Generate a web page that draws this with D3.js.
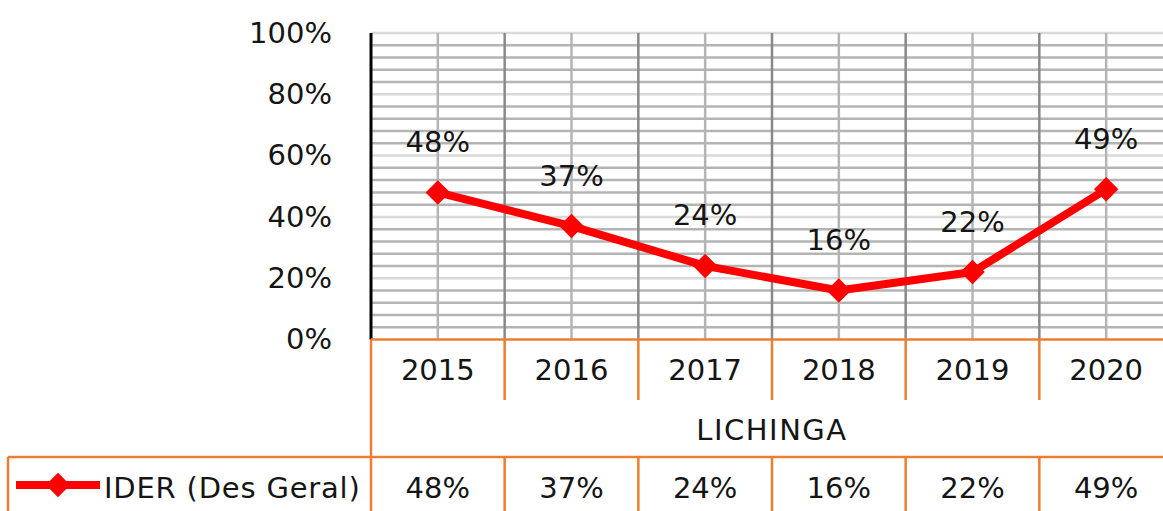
<!DOCTYPE html>
<html>
<head>
<meta charset="utf-8">
<script src="https://cdn.jsdelivr.net/npm/d3@7"></script>
<style>
  html, body { margin: 0; padding: 0; background: #fff; overflow: hidden; }
  svg { display: block; }
  text { font-family: "DejaVu Sans", Verdana, sans-serif; fill: #151515; }
</style>
</head>
<body>
<svg id="chart" width="1163" height="511"></svg>
<script>
// Categories, series and tick labels
const years = ["2015", "2016", "2017", "2018", "2019", "2020"];
const groupLabel = "LICHINGA";
const seriesName = "IDER (Des Geral)";
const ider = [0.48, 0.37, 0.24, 0.16, 0.22, 0.49];
const yTicks = [0, 0.2, 0.4, 0.6, 0.8, 1.0];
const yTickLabels = ["0%", "20%", "40%", "60%", "80%", "100%"];

(function drawChart() {
  const W = 1163, H = 511;
  const plotL = 371, plotR = 1173, plotT = 33, plotB = 339.5;
  const orange = "#ed7d31";
  const fs = 29;

  const svg = d3.select("#chart");
  const pct = d3.format(".0%");

  const x = d3.scaleBand().domain(years).range([plotL, plotR]).padding(0);
  const y = d3.scaleLinear().domain([0, 1]).range([plotB, plotT]);
  const cx = d => x(d) + x.bandwidth() / 2;

  // Horizontal gridlines: minor every 4%, major every 20%
  const minor = d3.range(1, 25).map(k => k * 0.04).filter(v => Math.abs(v * 5 - Math.round(v * 5)) > 1e-6);
  const major = yTicks.filter(v => v > 0);

  const grid = svg.append("g");
  grid.selectAll("line.minor").data(minor).join("line")
    .attr("class", "minor")
    .attr("x1", plotL).attr("x2", W)
    .attr("y1", d => y(d)).attr("y2", d => y(d))
    .attr("stroke", "#b4b4b4").attr("stroke-width", 2.5);
  grid.selectAll("line.major").data(major).join("line")
    .attr("class", "major")
    .attr("x1", plotL).attr("x2", W)
    .attr("y1", d => y(d)).attr("y2", d => y(d))
    .attr("stroke", "#d9d9d9").attr("stroke-width", 2.5);

  // Vertical gridlines: category centres (light) and category boundaries (dark)
  grid.selectAll("line.center").data(years).join("line")
    .attr("class", "center")
    .attr("x1", cx).attr("x2", cx)
    .attr("y1", plotT).attr("y2", plotB)
    .attr("stroke", "#b4b4b4").attr("stroke-width", 2.5);
  grid.selectAll("line.bound").data(years.slice(1)).join("line")
    .attr("class", "bound")
    .attr("x1", d => x(d)).attr("x2", d => x(d))
    .attr("y1", plotT).attr("y2", plotB)
    .attr("stroke", "#898989").attr("stroke-width", 2.5);

  // Y axis
  const yAxis = d3.axisLeft(y).tickValues(yTicks)
    .tickFormat((d, i) => yTickLabels[i]).tickSize(0).tickPadding(39);
  const ya = svg.append("g").attr("transform", `translate(${plotL},0)`).call(yAxis);
  ya.select(".domain").attr("stroke", "#000").attr("stroke-width", 3)
    .attr("d", `M0,${plotT}V${plotB}`);
  ya.selectAll("text").attr("font-size", fs).attr("font-family", null)
    .attr("fill", "#151515").attr("dy", "0.32em");

  // Data table under the plot
  const rowYear = 369.5, rowGroup = 429.5, rowData = 487.5;
  const yearRowBottom = 400, dataTop = 457;
  const tbl = svg.append("g").attr("stroke", orange).attr("stroke-width", 2.5);
  tbl.append("line").attr("x1", plotL).attr("x2", W).attr("y1", plotB).attr("y2", plotB);
  tbl.append("line").attr("x1", 8).attr("x2", W).attr("y1", dataTop).attr("y2", dataTop);
  tbl.append("line").attr("x1", plotL).attr("x2", plotL).attr("y1", plotB).attr("y2", H);
  tbl.append("line").attr("x1", 8).attr("x2", 8).attr("y1", dataTop).attr("y2", H);
  tbl.selectAll("line.yb").data(years.slice(1)).join("line")
    .attr("class", "yb")
    .attr("x1", d => x(d)).attr("x2", d => x(d))
    .attr("y1", plotB).attr("y2", yearRowBottom);
  tbl.selectAll("line.db").data(years.slice(1)).join("line")
    .attr("class", "db")
    .attr("x1", d => x(d)).attr("x2", d => x(d))
    .attr("y1", dataTop).attr("y2", H);

  const labels = svg.append("g").attr("font-size", fs).attr("text-anchor", "middle");
  labels.selectAll("text.year").data(years).join("text")
    .attr("class", "year")
    .attr("x", cx).attr("y", rowYear).attr("dy", "0.36em")
    .text(d => d);
  labels.append("text")
    .attr("x", (plotL + plotR) / 2).attr("y", rowGroup).attr("dy", "0.36em")
    .attr("letter-spacing", 1.5)
    .text(groupLabel);
  labels.selectAll("text.val").data(ider).join("text")
    .attr("class", "val")
    .attr("x", (d, i) => cx(years[i])).attr("y", rowData).attr("dy", "0.36em")
    .text(d => pct(d));

  // Series line with diamond markers
  const red = "#ff0000";
  const line = d3.line()
    .x((d, i) => cx(years[i]))
    .y(d => y(d));
  svg.append("path").datum(ider)
    .attr("d", line).attr("fill", "none")
    .attr("stroke", red).attr("stroke-width", 8).attr("stroke-linejoin", "round");

  const diamond = d3.symbol(d3.symbolSquare, 300);
  svg.selectAll("path.mark").data(ider).join("path")
    .attr("class", "mark")
    .attr("d", diamond)
    .attr("transform", (d, i) => `translate(${cx(years[i])},${y(d)}) rotate(45)`)
    .attr("fill", red);

  // Point labels above markers
  svg.append("g").attr("font-size", fs).attr("text-anchor", "middle")
    .selectAll("text").data(ider).join("text")
    .attr("x", (d, i) => cx(years[i]))
    .attr("y", d => y(d) - 51).attr("dy", "0.36em")
    .text(d => pct(d));

  // Legend key in the table row
  const key = svg.append("g");
  key.append("line").attr("x1", 16).attr("x2", 100).attr("y1", 485).attr("y2", 485)
    .attr("stroke", red).attr("stroke-width", 8);
  key.append("path").attr("d", diamond)
    .attr("transform", "translate(58,485) rotate(45)").attr("fill", red);
  key.append("text").attr("x", 104).attr("y", rowData).attr("dy", "0.36em")
    .attr("font-size", fs).attr("letter-spacing", 0.8).text(seriesName);
})();
</script>
</body>
</html>
